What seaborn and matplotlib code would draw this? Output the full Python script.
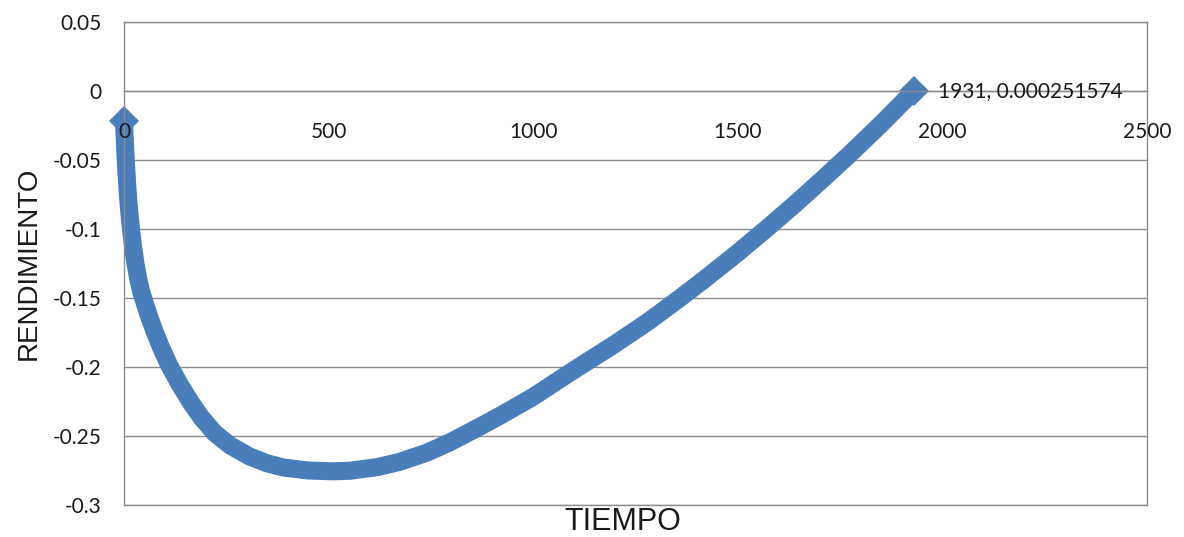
import matplotlib
matplotlib.use("Agg")
import matplotlib.pyplot as plt
import seaborn as sns
import pandas as pd

# ---- data ----
tiempo = [0, 1, 2, 3, 5, 7, 9, 11, 13, 17, 22, 28, 35, 42, 51, 62, 75, 90, 110,
          135, 164, 190, 222, 260, 308, 350, 389, 450, 511, 552, 620, 674, 740,
          797, 826, 870, 919, 1000, 1085, 1200, 1280, 1359, 1420, 1500, 1574,
          1640, 1700, 1770, 1850, 1931]
rendimiento = [-0.022, -0.029, -0.036, -0.043, -0.054, -0.064, -0.073, -0.081,
               -0.088, -0.100, -0.1125, -0.125, -0.1365, -0.1455, -0.1540,
               -0.1640, -0.1745, -0.1855, -0.1985, -0.2120, -0.2260, -0.2370,
               -0.2480, -0.2570, -0.2650, -0.2698, -0.2728, -0.2750, -0.2756,
               -0.2752, -0.2725, -0.2687, -0.2621, -0.2545, -0.2500, -0.2432,
               -0.2353, -0.2216, -0.2050, -0.1833, -0.1673, -0.1500, -0.1361,
               -0.1172, -0.0988, -0.0819, -0.0659, -0.0468, -0.0240, 0.000251574]
xticks = [0, 500, 1000, 1500, 2000, 2500]
xtick_labels = ["0", "500", "1000", "1500", "2000", "2500"]
yticks = [0.05, 0, -0.05, -0.1, -0.15, -0.2, -0.25, -0.3]
ytick_labels = ["0.05", "0", "-0.05", "-0.1", "-0.15", "-0.2", "-0.25", "-0.3"]
point_label = "1931, 0.000251574"
x_title = "TIEMPO"
y_title = "RENDIMIENTO"

df = pd.DataFrame({"TIEMPO": tiempo, "RENDIMIENTO": rendimiento})

sns.set_theme(style="white")
plt.rcParams["font.family"] = ["Lato", "DejaVu Sans"]
plt.rcParams["axes.unicode_minus"] = False

BLUE = "#4A7EBB"
GRID = "#8C8C8C"
TXT = "#1a1a1a"

fig = plt.figure(figsize=(11.84, 5.37), dpi=100)
ax = fig.add_axes([124 / 1184, 1 - 505 / 537, (1147 - 124) / 1184, (505 - 22) / 537])

sns.lineplot(data=df, x="TIEMPO", y="RENDIMIENTO", ax=ax, color=BLUE,
             linewidth=13, marker="D", markersize=15, markeredgewidth=0,
             markevery=[0, len(tiempo) - 1],
             solid_capstyle="butt", solid_joinstyle="round",
             sort=False, estimator=None, clip_on=False)

ax.set_xlim(0, 2500)
ax.set_ylim(-0.3, 0.05)
ax.set_xticks(xticks)
ax.set_xticklabels(xtick_labels)
ax.set_yticks(yticks)
ax.set_yticklabels(ytick_labels)

ax.grid(axis="y", color=GRID, linewidth=1)
ax.grid(axis="x", visible=False)
# bottom gridline at the lower axis limit (otherwise hidden under the moved spine)
ax.axhline(ax.get_ylim()[0], color=GRID, linewidth=1, clip_on=False, zorder=0.6)

for side in ["left", "right", "top", "bottom"]:
    ax.spines[side].set_visible(True)
    ax.spines[side].set_color(GRID)
    ax.spines[side].set_linewidth(1)
ax.spines["bottom"].set_position(("data", 0))

ax.tick_params(axis="x", length=0, pad=22, labelsize=15, labelcolor=TXT)
ax.tick_params(axis="y", length=0, pad=16, labelsize=15, labelcolor=TXT)
ax.xaxis.set_zorder(3)

ax.annotate(point_label, xy=(tiempo[-1], rendimiento[-1]), xytext=(17, 0),
            textcoords="offset points", ha="left", va="center",
            fontsize=15, color=TXT)

xt_font = {"family": ["Liberation Sans", "DejaVu Sans"], "size": 22, "color": TXT}
yt_font = {"family": ["Liberation Sans", "DejaVu Sans"], "size": 20, "color": TXT}
ax.set_xlabel(x_title, fontdict=xt_font, va="center", ha="center")
ax.set_ylabel(y_title, fontdict=yt_font, va="center", ha="center")
ax.xaxis.set_label_coords((623 - 124) / 1023, (505 - 522) / 483)
ax.yaxis.set_label_coords((29 - 124) / 1023, 0.5)

fig.savefig("out.png", dpi=100)
